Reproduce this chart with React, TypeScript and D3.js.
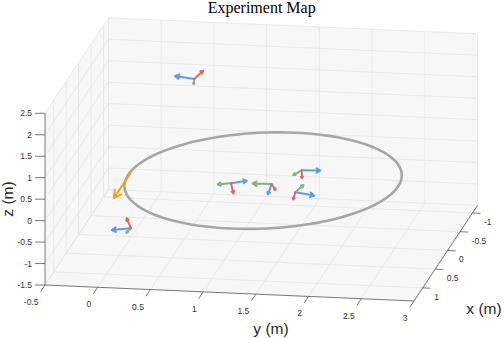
import * as d3 from 'd3'

// Experiment map: 3D view of a circular trajectory and a few pose frames
const xLim = [-1.2, 1.35]
const yLim = [-0.5, 3]
const zLim = [-1.5, 2.5]
const xTicks = [-1, -0.5, 0, 0.5, 1]
const yTicks = [-0.5, 0, 0.5, 1, 1.5, 2, 2.5, 3]
const zTicks = [-1.5, -1, -0.5, 0, 0.5, 1, 1.5, 2, 2.5]

// circular path (center x, y, z and radius, m)
const pathCenter = [0, 1.25, -0.06]
const pathRadius = 1.28

// start arrow
const startPoint = [0, -0.01, -0.03]
const startVector = [0.65, 0, 0]

// pose frames: origin and the three axis vectors
const poseOrigins = [
  [0, 0.597, 2.238],
  [0, 0.946, -0.155],
  [0, 1.33, -0.13],
  [0, 1.616, 0.219],
  [0, 1.555, -0.3],
  [0, -0.003, -1.304],
]
const poseRed = [
  [0, 0.085, 0.203],
  [0, 0.022, -0.231],
  [0, 0.038, -0.136],
  [0, 0.003, -0.186],
  [0, -0.019, -0.17],
  [0, -0.041, 0.229],
]
const poseGreen = [
  [0, -0.006, -0.124],
  [0, -0.126, -0.037],
  [0, -0.18, -0.008],
  [0, -0.08, -0.118],
  [0, 0.078, 0.178],
  [0, -0.045, -0.107],
]
const poseBlue = [
  [0, -0.183, 0.05],
  [0, 0.149, 0.076],
  [0, -0.033, -0.244],
  [0, 0.178, 0.014],
  [0, 0.18, -0.055],
  [0, -0.183, -0.059],
]

const W = 504
const H = 338
// screen frame of the box: front-left-bottom corner and the three edge vectors
const O = [45, 285]
const EX = [63.5, -95.5] // from x max (front) to x min (back)
const EY = [369, 16]
const EZ = [0, -171.7]

const fx = d3.scaleLinear().domain([xLim[1], xLim[0]]).range([0, 1])
const fy = d3.scaleLinear().domain(yLim).range([0, 1])
const fz = d3.scaleLinear().domain(zLim).range([0, 1])

type P3 = number[]
const proj = (p: P3): [number, number] => {
  const a = fx(p[0]), b = fy(p[1]), c = fz(p[2])
  return [O[0] + a * EX[0] + b * EY[0] + c * EZ[0], O[1] + a * EX[1] + b * EY[1] + c * EZ[1]]
}
const add = (p: P3, v: P3) => [p[0] + v[0], p[1] + v[1], p[2] + v[2]]
const seg = (p: P3, q: P3) => {
  const a = proj(p), b = proj(q)
  return `M${a[0]},${a[1]}L${b[0]},${b[1]}`
}

const FONT = '"Liberation Sans", Arial, Helvetica, sans-serif'
const RED = '#e46464'
const GREEN = '#80b380'
const BLUE = '#5b9cf0'
const ORANGE = '#eca51c'

function arrowPath(p: P3, v: P3, k = 0.24) {
  const s = proj(p), e = proj(add(p, v))
  const dx = s[0] - e[0], dy = s[1] - e[1]
  const len = Math.hypot(dx, dy)
  const h = len * k
  const ux = dx / len, uy = dy / len
  const ang = Math.PI / 6
  const r = (t: number) => [e[0] + h * (ux * Math.cos(t) - uy * Math.sin(t)), e[1] + h * (ux * Math.sin(t) + uy * Math.cos(t))]
  const a1 = r(ang), a2 = r(-ang)
  return `M${s[0]},${s[1]}L${e[0]},${e[1]}M${a1[0]},${a1[1]}L${e[0]},${e[1]}L${a2[0]},${a2[1]}`
}

export default function App() {
  const [x0, x1] = xLim, [y0, y1] = yLim, [z0, z1] = zLim

  // grid on back wall (x = x min), left wall (y = y min), floor (z = z min)
  const grid: string[] = []
  yTicks.forEach(y => grid.push(seg([x0, y, z0], [x0, y, z1])))
  zTicks.forEach(z => grid.push(seg([x0, y0, z], [x0, y1, z])))
  zTicks.forEach(z => grid.push(seg([x1, y0, z], [x0, y0, z])))
  xTicks.forEach(x => grid.push(seg([x, y0, z0], [x, y0, z1])))
  yTicks.forEach(y => grid.push(seg([x1, y, z0], [x0, y, z0])))
  xTicks.forEach(x => grid.push(seg([x, y0, z0], [x, y1, z0])))

  const hull = [
    [x1, y0, z0], [x1, y1, z0], [x0, y1, z0], [x0, y1, z1], [x0, y0, z1], [x1, y0, z1],
  ].map(proj)

  const angles = d3.range(0, 361, 3).map(d => (d * Math.PI) / 180)
  const circle = d3.line()(angles.map(t => proj([
    pathCenter[0] + pathRadius * Math.cos(t),
    pathCenter[1] + pathRadius * Math.sin(t),
    pathCenter[2],
  ])))

  const xdir = [-EX[0] / Math.hypot(EX[0], EX[1]), -EX[1] / Math.hypot(EX[0], EX[1])]
  const ydir = [EY[0] / Math.hypot(EY[0], EY[1]), EY[1] / Math.hypot(EY[0], EY[1])]

  return (
    <svg width={W} height={H} style={{ position: 'absolute', left: 0, top: 0, background: '#fff' }}>
      <polygon points={hull.map(p => p.join(',')).join(' ')} fill="#f7f7f7" />
      <g stroke="#e2e2e2" strokeWidth={0.7} fill="none">
        {grid.map((d, i) => <path key={i} d={d} />)}
      </g>

      {/* axis lines */}
      <g stroke="#555" strokeWidth={0.8} fill="none">
        <path d={seg([x1, y0, z0], [x1, y0, z1])} />
        <path d={seg([x1, y0, z0], [x1, y1, z0])} />
        <path d={seg([x1, y1, z0], [x0, y1, z0])} />
        {zTicks.map(z => {
          const p = proj([x1, y0, z])
          return <path key={'zt' + z} d={`M${p[0]},${p[1]}h-10`} />
        })}
        {yTicks.map(y => {
          const p = proj([x1, y, z0])
          return <path key={'yt' + y} d={`M${p[0]},${p[1]}l${xdir[0] * 8},${xdir[1] * 8}`} />
        })}
        {xTicks.map(x => {
          const p = proj([x, y1, z0])
          return <path key={'xt' + x} d={`M${p[0]},${p[1]}l${ydir[0] * 8},${ydir[1] * 8}`} />
        })}
      </g>

      <g fontFamily={FONT} fontSize={8.5} fill="#333">
        {zTicks.map(z => {
          const p = proj([x1, y0, z])
          return <text key={'zl' + z} x={p[0] - 13} y={p[1] + 3} textAnchor="end">{z}</text>
        })}
        {yTicks.map(y => {
          const p = proj([x1, y, z0])
          return <text key={'yl' + y} x={p[0] - 6.5} y={p[1] + 20} textAnchor="end">{y}</text>
        })}
        {xTicks.map(x => {
          const p = proj([x, y1, z0])
          return <text key={'xl' + x} x={p[0] + 11.5} y={p[1] + 12} textAnchor="start">{x}</text>
        })}
      </g>

      <g fontFamily={FONT} fontSize={15.5} fill="#262626">
        <text x={271} y={333.5} textAnchor="middle">y (m)</text>
        <text x={484} y={313.5} textAnchor="middle">x (m)</text>
        <text transform="translate(13,199) rotate(-90)" textAnchor="middle">z (m)</text>
      </g>
      <text x={261.7} y={13} textAnchor="middle" fontFamily='"Liberation Serif", "Times New Roman", serif' fontSize={16} fill="#000">
        Experiment Map
      </text>

      {/* trajectory */}
      <path d={circle ?? ''} fill="none" stroke="#a6a6a6" strokeWidth={2.6} />
      <path d={arrowPath(startPoint, startVector, 0.28)} fill="none" stroke={ORANGE} strokeWidth={2} strokeLinecap="round" strokeLinejoin="round" />

      {/* pose frames */}
      <g fill="none" strokeWidth={2} strokeLinecap="round" strokeLinejoin="round">
        {poseOrigins.map((o, i) => (
          <g key={i}>
            <path d={arrowPath(o, poseGreen[i])} stroke={GREEN} />
            <path d={arrowPath(o, poseBlue[i])} stroke={BLUE} />
            <path d={arrowPath(o, poseRed[i])} stroke={RED} />
          </g>
        ))}
      </g>
    </svg>
  )
}
